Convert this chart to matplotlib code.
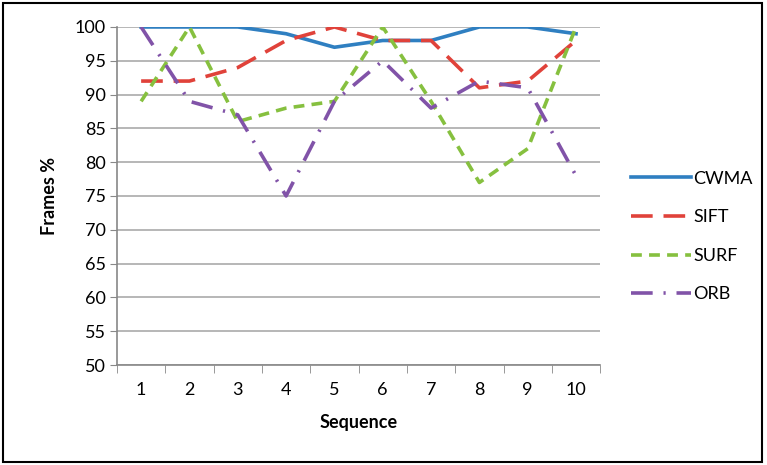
import matplotlib.pyplot as plt
from matplotlib.patches import Rectangle

sequences = list(range(1, 11))
cwma = [100, 100, 100, 99, 97, 98, 98, 100, 100, 99]
sift = [92, 92, 94, 98, 100, 98, 98, 91, 92, 98]
surf = [89, 100, 86, 88, 89, 100, 89, 77, 82, 100]
orb = [100, 89, 87, 75, 89, 95, 88, 92, 91, 78]

plt.rcParams['font.family'] = ['Lato', 'DejaVu Sans']

fig = plt.figure(figsize=(7.67, 4.65), dpi=100)
ax = fig.add_axes([0.1525, 0.215, 0.63, 0.727])

lw = 2.6
ax.plot(sequences, cwma, color="#2f7fc1", lw=lw, label="CWMA")
ax.plot(sequences, sift, color="#e0423a", lw=lw, dashes=(6, 3), label="SIFT")
ax.plot(sequences, surf, color="#86c03f", lw=lw, dashes=(3, 2), label="SURF")
ax.plot(sequences, orb, color="#8153a8", lw=lw, dashes=(6, 3, 0.6, 3), label="ORB")

ax.set_xlim(0.5, 10.5)
ax.set_ylim(50, 100)
ax.set_yticks(range(50, 101, 5))
ax.set_xticks(sequences)
ax.set_xticks([i + 0.5 for i in range(0, 11)], minor=True)
ax.tick_params(axis="x", which="major", length=0, pad=12, labelsize=13)
ax.tick_params(axis="x", which="minor", length=6, color="#888888", direction="out")
ax.tick_params(axis="y", length=5, color="#888888", labelsize=13, pad=3)
ax.yaxis.grid(True, color="#aaaaaa", lw=1.2)
ax.set_axisbelow(True)
for side in ["top", "right"]:
    ax.spines[side].set_visible(False)
for side in ["left", "bottom"]:
    ax.spines[side].set_color("#888888")
    ax.spines[side].set_linewidth(1.2)

ax.set_xlabel("Sequence", fontsize=13, fontweight="bold", labelpad=12)
ax.set_ylabel("Frames %", fontsize=13, fontweight="bold", labelpad=12)

ax.legend(loc="center left", bbox_to_anchor=(1.03, 0.38), frameon=False,
          fontsize=13, handlelength=3.3, handletextpad=0.15, labelspacing=1.25)

fig.patches.append(Rectangle((0.004, 0.006), 0.99, 0.988, transform=fig.transFigure,
                             fill=False, edgecolor="black", lw=1.5))

plt.savefig("out.png")
